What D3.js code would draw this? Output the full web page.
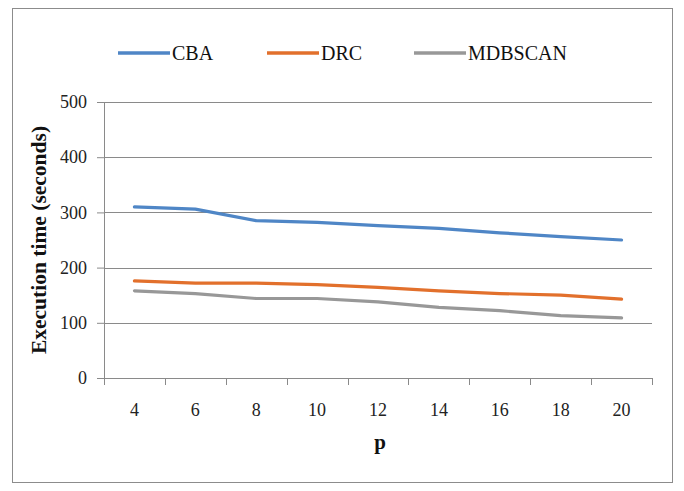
<html>
<head>
  <style>
    body { margin: 0; background: white; }
    svg text { font-family: "Liberation Serif", "Times New Roman", serif; }
  </style>
  <script src="https://cdn.jsdelivr.net/npm/d3@7"></script>
</head>
<body>
  <svg id="chart"></svg>
  <script>
    // data
    let pValues = ["4", "6", "8", "10", "12", "14", "16", "18", "20"]
    let cbaTimes = [310, 306, 285, 282, 276, 271, 263, 256, 250]
    let drcTimes = [176, 172, 172, 169, 164, 158, 153, 150, 143]
    let mdbscanTimes = [158, 153, 144, 144, 138, 128, 122, 113, 109]
    let yTicks = [0, 100, 200, 300, 400, 500]

    let series = [
      { name: "CBA", values: cbaTimes, color: "#4f86c6" },
      { name: "DRC", values: drcTimes, color: "#e2702c" },
      { name: "MDBSCAN", values: mdbscanTimes, color: "#989898" }
    ]

    let width = 684, height = 491
    let margin = { top: 102, left: 104, right: 32, bottom: 113 }
    let bodyWidth = width - margin.left - margin.right
    let bodyHeight = height - margin.top - margin.bottom
    let axisColor = "#8a8a8a"

    let svg = d3.select("#chart").attr("width", width).attr("height", height)

    // outer frame
    svg.append("rect")
      .attr("x", 12.5).attr("y", 8.5)
      .attr("width", 660).attr("height", 474)
      .attr("fill", "none").attr("stroke", "#8c8c8c").attr("stroke-width", 1)

    let xScale = d3.scaleBand().domain(pValues).range([0, bodyWidth])
    let yScale = d3.scaleLinear().domain([0, 500]).range([bodyHeight, 0])

    let body = svg.append("g").attr("transform", `translate(${margin.left},${margin.top})`)

    // gridlines
    body.selectAll(".grid").data(yTicks.slice(1)).enter().append("line")
      .attr("x1", 0).attr("x2", bodyWidth)
      .attr("y1", d => Math.round(yScale(d)) + 0.5)
      .attr("y2", d => Math.round(yScale(d)) + 0.5)
      .attr("stroke", axisColor).attr("stroke-width", 1)

    // y axis
    let axisY = d3.axisLeft(yScale).tickValues(yTicks).tickSize(7).tickPadding(10)
    let gy = body.append("g").call(axisY)
    gy.attr("font-family", null)
    gy.select(".domain").attr("stroke", axisColor)
    gy.selectAll(".tick line").attr("stroke", axisColor)
    gy.selectAll("text").attr("font-size", 18).attr("fill", "#222")

    // x axis (ticks at band boundaries)
    let gx = body.append("g").attr("transform", `translate(0,${bodyHeight})`)
    gx.append("line").attr("x1", 0).attr("x2", bodyWidth).attr("y1", 0.5).attr("y2", 0.5)
      .attr("stroke", axisColor)
    let bounds = pValues.map(p => xScale(p)).concat([bodyWidth])
    gx.selectAll(".xt").data(bounds).enter().append("line")
      .attr("x1", d => Math.round(d) + 0.5).attr("x2", d => Math.round(d) + 0.5)
      .attr("y1", 0).attr("y2", 7)
      .attr("stroke", axisColor)
    gx.selectAll(".xl").data(pValues).enter().append("text")
      .attr("x", d => xScale(d) + xScale.bandwidth() / 2)
      .attr("y", 38)
      .attr("text-anchor", "middle")
      .attr("font-size", 18).attr("fill", "#222")
      .text(d => d)

    // lines
    let line = d3.line()
      .x((d, i) => xScale(pValues[i]) + xScale.bandwidth() / 2)
      .y(d => yScale(d))

    series.forEach(s => {
      body.append("path")
        .datum(s.values)
        .attr("d", line)
        .attr("fill", "none")
        .attr("stroke", s.color)
        .attr("stroke-width", 3.2)
        .attr("stroke-linejoin", "round")
        .attr("stroke-linecap", "round")
    })

    // axis titles
    svg.append("text")
      .attr("x", margin.left + bodyWidth / 2 + 2).attr("y", 449)
      .attr("text-anchor", "middle")
      .attr("font-size", 21).attr("font-weight", "bold").attr("fill", "#111")
      .text("p")

    svg.append("text")
      .attr("transform", `translate(46,${margin.top + bodyHeight / 2}) rotate(-90)`)
      .attr("text-anchor", "middle")
      .attr("font-size", 21.5).attr("font-weight", "bold").attr("fill", "#111")
      .text("Execution time (seconds)")

    // legend
    let legendX = [118, 267, 414]
    let legend = svg.selectAll(".legend").data(series).enter().append("g")
      .attr("transform", (d, i) => `translate(${legendX[i]},53)`)
    legend.append("line")
      .attr("x1", 0).attr("x2", 52).attr("y1", 0).attr("y2", 0)
      .attr("stroke", d => d.color).attr("stroke-width", 3.5)
    legend.append("text")
      .attr("x", 54).attr("y", 6.5)
      .attr("font-size", 20).attr("fill", "#111")
      .text(d => d.name)
  </script>
</body>
</html>
